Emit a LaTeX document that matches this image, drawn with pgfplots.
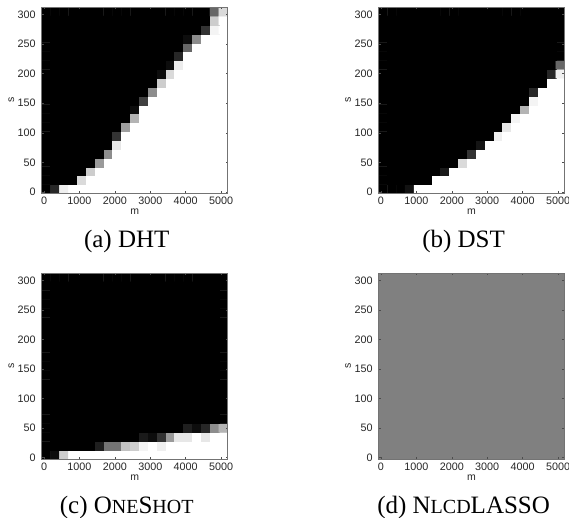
\documentclass[border=0pt]{standalone}
\usepackage{fontspec}
\setmainfont{Liberation Serif}
\setsansfont{Liberation Sans}
\usepackage{pgfplots}
\pgfplotsset{compat=1.18}

\newcommand\capfont{\fontsize{25}{30}\selectfont}
\newcommand\sm[1]{{\fontsize{20}{24}\selectfont #1}}

\pgfplotsset{
  hmap/.style={
    scale only axis, width=186pt, height=186pt,
    xmin=-65, xmax=5185, ymin=-2.5, ymax=312.5,
    xtick={0,1000,2000,3000,4000,5000},
    ytick={0,50,100,150,200,250,300},
    tick align=inside, major tick length=2.2pt,
    axis line style={black!55, line width=0.5pt},
    every tick/.style={black!70, line width=0.5pt},
    tick label style={font=\sffamily\fontsize{10.8}{12}\selectfont, text=black!85},
    /pgf/number format/assume math mode=true,
    /pgf/number format/1000 sep={},
    yticklabel style={xshift=-2.5pt},
    xlabel={m}, ylabel={s},
    label style={font=\sffamily\fontsize{10.5}{12}\selectfont, text=black!85},
    xlabel style={at={([yshift=-21.7pt]axis description cs:0.5,0)}, anchor=base},
    ylabel style={at={([xshift=-30.4pt]axis description cs:0,0.5)}, anchor=center},
    colormap={bw}{gray(0cm)=(0); gray(1cm)=(1)},
    point meta min=0, point meta max=1,
    axis on top,
  },
}

\begin{document}
\begin{tikzpicture}
\useasboundingbox (0,0) rectangle (569pt,517pt);

% (a) DHT
\begin{axis}[hmap, name=pa, at={(41.7pt,323.7pt)}, anchor=south west]
\addplot[matrix plot*, mesh/cols=21, point meta=explicit] table[meta=z, row sep=\\] {
m s z\\
60 5 0\\ 310 5 0.15\\ 560 5 0.93\\ 810 5 1\\ 1060 5 1\\ 1310 5 1\\ 1560 5 1\\ 1810 5 1\\ 2060 5 1\\ 2310 5 1\\ 2560 5 1\\ 2810 5 1\\ 3060 5 1\\ 3310 5 1\\ 3560 5 1\\ 3810 5 1\\ 4060 5 1\\ 4310 5 1\\ 4560 5 1\\ 4810 5 1\\ 5060 5 1\\
60 20 0\\ 310 20 0\\ 560 20 0\\ 810 20 0\\ 1060 20 0.85\\ 1310 20 1\\ 1560 20 1\\ 1810 20 1\\ 2060 20 1\\ 2310 20 1\\ 2560 20 1\\ 2810 20 1\\ 3060 20 1\\ 3310 20 1\\ 3560 20 1\\ 3810 20 1\\ 4060 20 1\\ 4310 20 1\\ 4560 20 1\\ 4810 20 1\\ 5060 20 1\\
60 35 0\\ 310 35 0\\ 560 35 0\\ 810 35 0\\ 1060 35 0\\ 1310 35 0.8\\ 1560 35 1\\ 1810 35 1\\ 2060 35 1\\ 2310 35 1\\ 2560 35 1\\ 2810 35 1\\ 3060 35 1\\ 3310 35 1\\ 3560 35 1\\ 3810 35 1\\ 4060 35 1\\ 4310 35 1\\ 4560 35 1\\ 4810 35 1\\ 5060 35 1\\
60 50 0\\ 310 50 0\\ 560 50 0\\ 810 50 0\\ 1060 50 0\\ 1310 50 0\\ 1560 50 0.6\\ 1810 50 1\\ 2060 50 1\\ 2310 50 1\\ 2560 50 1\\ 2810 50 1\\ 3060 50 1\\ 3310 50 1\\ 3560 50 1\\ 3810 50 1\\ 4060 50 1\\ 4310 50 1\\ 4560 50 1\\ 4810 50 1\\ 5060 50 1\\
60 65 0\\ 310 65 0\\ 560 65 0\\ 810 65 0\\ 1060 65 0\\ 1310 65 0\\ 1560 65 0\\ 1810 65 0.55\\ 2060 65 1\\ 2310 65 1\\ 2560 65 1\\ 2810 65 1\\ 3060 65 1\\ 3310 65 1\\ 3560 65 1\\ 3810 65 1\\ 4060 65 1\\ 4310 65 1\\ 4560 65 1\\ 4810 65 1\\ 5060 65 1\\
60 80 0\\ 310 80 0\\ 560 80 0\\ 810 80 0\\ 1060 80 0\\ 1310 80 0\\ 1560 80 0\\ 1810 80 0\\ 2060 80 0.9\\ 2310 80 1\\ 2560 80 1\\ 2810 80 1\\ 3060 80 1\\ 3310 80 1\\ 3560 80 1\\ 3810 80 1\\ 4060 80 1\\ 4310 80 1\\ 4560 80 1\\ 4810 80 1\\ 5060 80 1\\
60 95 0\\ 310 95 0\\ 560 95 0\\ 810 95 0\\ 1060 95 0\\ 1310 95 0\\ 1560 95 0\\ 1810 95 0\\ 2060 95 0.2\\ 2310 95 1\\ 2560 95 1\\ 2810 95 1\\ 3060 95 1\\ 3310 95 1\\ 3560 95 1\\ 3810 95 1\\ 4060 95 1\\ 4310 95 1\\ 4560 95 1\\ 4810 95 1\\ 5060 95 1\\
60 110 0\\ 310 110 0\\ 560 110 0\\ 810 110 0\\ 1060 110 0\\ 1310 110 0\\ 1560 110 0\\ 1810 110 0\\ 2060 110 0\\ 2310 110 0.62\\ 2560 110 1\\ 2810 110 1\\ 3060 110 1\\ 3310 110 1\\ 3560 110 1\\ 3810 110 1\\ 4060 110 1\\ 4310 110 1\\ 4560 110 1\\ 4810 110 1\\ 5060 110 1\\
60 125 0\\ 310 125 0\\ 560 125 0\\ 810 125 0\\ 1060 125 0\\ 1310 125 0\\ 1560 125 0\\ 1810 125 0\\ 2060 125 0\\ 2310 125 0\\ 2560 125 0.7\\ 2810 125 1\\ 3060 125 1\\ 3310 125 1\\ 3560 125 1\\ 3810 125 1\\ 4060 125 1\\ 4310 125 1\\ 4560 125 1\\ 4810 125 1\\ 5060 125 1\\
60 140 0\\ 310 140 0\\ 560 140 0\\ 810 140 0\\ 1060 140 0\\ 1310 140 0\\ 1560 140 0\\ 1810 140 0\\ 2060 140 0\\ 2310 140 0\\ 2560 140 0.05\\ 2810 140 1\\ 3060 140 1\\ 3310 140 1\\ 3560 140 1\\ 3810 140 1\\ 4060 140 1\\ 4310 140 1\\ 4560 140 1\\ 4810 140 1\\ 5060 140 1\\
60 155 0\\ 310 155 0\\ 560 155 0\\ 810 155 0\\ 1060 155 0\\ 1310 155 0\\ 1560 155 0\\ 1810 155 0\\ 2060 155 0\\ 2310 155 0\\ 2560 155 0\\ 2810 155 0.25\\ 3060 155 1\\ 3310 155 1\\ 3560 155 1\\ 3810 155 1\\ 4060 155 1\\ 4310 155 1\\ 4560 155 1\\ 4810 155 1\\ 5060 155 1\\
60 170 0\\ 310 170 0\\ 560 170 0\\ 810 170 0\\ 1060 170 0\\ 1310 170 0\\ 1560 170 0\\ 1810 170 0\\ 2060 170 0\\ 2310 170 0\\ 2560 170 0\\ 2810 170 0\\ 3060 170 0.55\\ 3310 170 1\\ 3560 170 1\\ 3810 170 1\\ 4060 170 1\\ 4310 170 1\\ 4560 170 1\\ 4810 170 1\\ 5060 170 1\\
60 185 0\\ 310 185 0\\ 560 185 0\\ 810 185 0\\ 1060 185 0\\ 1310 185 0\\ 1560 185 0\\ 1810 185 0\\ 2060 185 0\\ 2310 185 0\\ 2560 185 0\\ 2810 185 0\\ 3060 185 0\\ 3310 185 0.8\\ 3560 185 1\\ 3810 185 1\\ 4060 185 1\\ 4310 185 1\\ 4560 185 1\\ 4810 185 1\\ 5060 185 1\\
60 200 0\\ 310 200 0\\ 560 200 0\\ 810 200 0\\ 1060 200 0\\ 1310 200 0\\ 1560 200 0\\ 1810 200 0\\ 2060 200 0\\ 2310 200 0\\ 2560 200 0\\ 2810 200 0\\ 3060 200 0\\ 3310 200 0.05\\ 3560 200 0.85\\ 3810 200 1\\ 4060 200 1\\ 4310 200 1\\ 4560 200 1\\ 4810 200 1\\ 5060 200 1\\
60 215 0\\ 310 215 0\\ 560 215 0\\ 810 215 0\\ 1060 215 0\\ 1310 215 0\\ 1560 215 0\\ 1810 215 0\\ 2060 215 0\\ 2310 215 0\\ 2560 215 0\\ 2810 215 0\\ 3060 215 0\\ 3310 215 0\\ 3560 215 0.05\\ 3810 215 0.92\\ 4060 215 1\\ 4310 215 1\\ 4560 215 1\\ 4810 215 1\\ 5060 215 1\\
60 230 0\\ 310 230 0\\ 560 230 0\\ 810 230 0\\ 1060 230 0\\ 1310 230 0\\ 1560 230 0\\ 1810 230 0\\ 2060 230 0\\ 2310 230 0\\ 2560 230 0\\ 2810 230 0\\ 3060 230 0\\ 3310 230 0\\ 3560 230 0\\ 3810 230 0.15\\ 4060 230 1\\ 4310 230 1\\ 4560 230 1\\ 4810 230 1\\ 5060 230 1\\
60 245 0\\ 310 245 0\\ 560 245 0\\ 810 245 0\\ 1060 245 0\\ 1310 245 0\\ 1560 245 0\\ 1810 245 0\\ 2060 245 0\\ 2310 245 0\\ 2560 245 0\\ 2810 245 0\\ 3060 245 0\\ 3310 245 0\\ 3560 245 0\\ 3810 245 0\\ 4060 245 0.4\\ 4310 245 1\\ 4560 245 1\\ 4810 245 1\\ 5060 245 1\\
60 260 0\\ 310 260 0\\ 560 260 0\\ 810 260 0\\ 1060 260 0\\ 1310 260 0\\ 1560 260 0\\ 1810 260 0\\ 2060 260 0\\ 2310 260 0\\ 2560 260 0\\ 2810 260 0\\ 3060 260 0\\ 3310 260 0\\ 3560 260 0\\ 3810 260 0\\ 4060 260 0.05\\ 4310 260 0.55\\ 4560 260 1\\ 4810 260 1\\ 5060 260 1\\
60 275 0\\ 310 275 0\\ 560 275 0\\ 810 275 0\\ 1060 275 0\\ 1310 275 0\\ 1560 275 0\\ 1810 275 0\\ 2060 275 0\\ 2310 275 0\\ 2560 275 0\\ 2810 275 0\\ 3060 275 0\\ 3310 275 0\\ 3560 275 0\\ 3810 275 0\\ 4060 275 0\\ 4310 275 0\\ 4560 275 0.2\\ 4810 275 0.95\\ 5060 275 1\\
60 290 0\\ 310 290 0\\ 560 290 0\\ 810 290 0\\ 1060 290 0\\ 1310 290 0\\ 1560 290 0\\ 1810 290 0\\ 2060 290 0\\ 2310 290 0\\ 2560 290 0\\ 2810 290 0\\ 3060 290 0\\ 3310 290 0\\ 3560 290 0\\ 3810 290 0\\ 4060 290 0\\ 4310 290 0\\ 4560 290 0\\ 4810 290 0.8\\ 5060 290 1\\
60 305 0\\ 310 305 0\\ 560 305 0\\ 810 305 0\\ 1060 305 0\\ 1310 305 0\\ 1560 305 0\\ 1810 305 0\\ 2060 305 0\\ 2310 305 0\\ 2560 305 0\\ 2810 305 0\\ 3060 305 0\\ 3310 305 0\\ 3560 305 0\\ 3810 305 0\\ 4060 305 0\\ 4310 305 0\\ 4560 305 0\\ 4810 305 0.4\\ 5060 305 0.85\\
};
\end{axis}
\node[anchor=base, font=\capfont] at ([xshift=-8pt,yshift=-54pt]pa.south) {(a) DHT};

% (b) DST
\begin{axis}[hmap, name=pb, at={(378.6pt,323.7pt)}, anchor=south west]
\addplot[matrix plot*, mesh/cols=21, point meta=explicit] table[meta=z, row sep=\\] {
m s z\\
60 5 0\\ 310 5 0\\ 560 5 0\\ 810 5 0.07\\ 1060 5 1\\ 1310 5 1\\ 1560 5 1\\ 1810 5 1\\ 2060 5 1\\ 2310 5 1\\ 2560 5 1\\ 2810 5 1\\ 3060 5 1\\ 3310 5 1\\ 3560 5 1\\ 3810 5 1\\ 4060 5 1\\ 4310 5 1\\ 4560 5 1\\ 4810 5 1\\ 5060 5 1\\
60 20 0\\ 310 20 0\\ 560 20 0\\ 810 20 0\\ 1060 20 0\\ 1310 20 0\\ 1560 20 1\\ 1810 20 1\\ 2060 20 1\\ 2310 20 1\\ 2560 20 1\\ 2810 20 1\\ 3060 20 1\\ 3310 20 1\\ 3560 20 1\\ 3810 20 1\\ 4060 20 1\\ 4310 20 1\\ 4560 20 1\\ 4810 20 1\\ 5060 20 1\\
60 35 0\\ 310 35 0\\ 560 35 0\\ 810 35 0\\ 1060 35 0\\ 1310 35 0\\ 1560 35 0\\ 1810 35 0.1\\ 2060 35 1\\ 2310 35 1\\ 2560 35 1\\ 2810 35 1\\ 3060 35 1\\ 3310 35 1\\ 3560 35 1\\ 3810 35 1\\ 4060 35 1\\ 4310 35 1\\ 4560 35 1\\ 4810 35 1\\ 5060 35 1\\
60 50 0\\ 310 50 0\\ 560 50 0\\ 810 50 0\\ 1060 50 0\\ 1310 50 0\\ 1560 50 0\\ 1810 50 0\\ 2060 50 0\\ 2310 50 0.85\\ 2560 50 1\\ 2810 50 1\\ 3060 50 1\\ 3310 50 1\\ 3560 50 1\\ 3810 50 1\\ 4060 50 1\\ 4310 50 1\\ 4560 50 1\\ 4810 50 1\\ 5060 50 1\\
60 65 0\\ 310 65 0\\ 560 65 0\\ 810 65 0\\ 1060 65 0\\ 1310 65 0\\ 1560 65 0\\ 1810 65 0\\ 2060 65 0\\ 2310 65 0\\ 2560 65 0.2\\ 2810 65 1\\ 3060 65 1\\ 3310 65 1\\ 3560 65 1\\ 3810 65 1\\ 4060 65 1\\ 4310 65 1\\ 4560 65 1\\ 4810 65 1\\ 5060 65 1\\
60 80 0\\ 310 80 0\\ 560 80 0\\ 810 80 0\\ 1060 80 0\\ 1310 80 0\\ 1560 80 0\\ 1810 80 0\\ 2060 80 0\\ 2310 80 0\\ 2560 80 0\\ 2810 80 0.08\\ 3060 80 1\\ 3310 80 1\\ 3560 80 1\\ 3810 80 1\\ 4060 80 1\\ 4310 80 1\\ 4560 80 1\\ 4810 80 1\\ 5060 80 1\\
60 95 0\\ 310 95 0\\ 560 95 0\\ 810 95 0\\ 1060 95 0\\ 1310 95 0\\ 1560 95 0\\ 1810 95 0\\ 2060 95 0\\ 2310 95 0\\ 2560 95 0\\ 2810 95 0\\ 3060 95 0\\ 3310 95 0.93\\ 3560 95 1\\ 3810 95 1\\ 4060 95 1\\ 4310 95 1\\ 4560 95 1\\ 4810 95 1\\ 5060 95 1\\
60 110 0\\ 310 110 0\\ 560 110 0\\ 810 110 0\\ 1060 110 0\\ 1310 110 0\\ 1560 110 0\\ 1810 110 0\\ 2060 110 0\\ 2310 110 0\\ 2560 110 0\\ 2810 110 0\\ 3060 110 0\\ 3310 110 0\\ 3560 110 0.9\\ 3810 110 1\\ 4060 110 1\\ 4310 110 1\\ 4560 110 1\\ 4810 110 1\\ 5060 110 1\\
60 125 0\\ 310 125 0\\ 560 125 0\\ 810 125 0\\ 1060 125 0\\ 1310 125 0\\ 1560 125 0\\ 1810 125 0\\ 2060 125 0\\ 2310 125 0\\ 2560 125 0\\ 2810 125 0\\ 3060 125 0\\ 3310 125 0\\ 3560 125 0\\ 3810 125 0.95\\ 4060 125 1\\ 4310 125 1\\ 4560 125 1\\ 4810 125 1\\ 5060 125 1\\
60 140 0\\ 310 140 0\\ 560 140 0\\ 810 140 0\\ 1060 140 0\\ 1310 140 0\\ 1560 140 0\\ 1810 140 0\\ 2060 140 0\\ 2310 140 0\\ 2560 140 0\\ 2810 140 0\\ 3060 140 0\\ 3310 140 0\\ 3560 140 0\\ 3810 140 0\\ 4060 140 0.7\\ 4310 140 1\\ 4560 140 1\\ 4810 140 1\\ 5060 140 1\\
60 155 0\\ 310 155 0\\ 560 155 0\\ 810 155 0\\ 1060 155 0\\ 1310 155 0\\ 1560 155 0\\ 1810 155 0\\ 2060 155 0\\ 2310 155 0\\ 2560 155 0\\ 2810 155 0\\ 3060 155 0\\ 3310 155 0\\ 3560 155 0\\ 3810 155 0\\ 4060 155 0\\ 4310 155 0.95\\ 4560 155 1\\ 4810 155 1\\ 5060 155 1\\
60 170 0\\ 310 170 0\\ 560 170 0\\ 810 170 0\\ 1060 170 0\\ 1310 170 0\\ 1560 170 0\\ 1810 170 0\\ 2060 170 0\\ 2310 170 0\\ 2560 170 0\\ 2810 170 0\\ 3060 170 0\\ 3310 170 0\\ 3560 170 0\\ 3810 170 0\\ 4060 170 0\\ 4310 170 0.15\\ 4560 170 1\\ 4810 170 1\\ 5060 170 1\\
60 185 0\\ 310 185 0\\ 560 185 0\\ 810 185 0\\ 1060 185 0\\ 1310 185 0\\ 1560 185 0\\ 1810 185 0\\ 2060 185 0\\ 2310 185 0\\ 2560 185 0\\ 2810 185 0\\ 3060 185 0\\ 3310 185 0\\ 3560 185 0\\ 3810 185 0\\ 4060 185 0\\ 4310 185 0\\ 4560 185 0\\ 4810 185 1\\ 5060 185 1\\
60 200 0\\ 310 200 0\\ 560 200 0\\ 810 200 0\\ 1060 200 0\\ 1310 200 0\\ 1560 200 0\\ 1810 200 0\\ 2060 200 0\\ 2310 200 0\\ 2560 200 0\\ 2810 200 0\\ 3060 200 0\\ 3310 200 0\\ 3560 200 0\\ 3810 200 0\\ 4060 200 0\\ 4310 200 0\\ 4560 200 0\\ 4810 200 0.15\\ 5060 200 0.93\\
60 215 0\\ 310 215 0\\ 560 215 0\\ 810 215 0\\ 1060 215 0\\ 1310 215 0\\ 1560 215 0\\ 1810 215 0\\ 2060 215 0\\ 2310 215 0\\ 2560 215 0\\ 2810 215 0\\ 3060 215 0\\ 3310 215 0\\ 3560 215 0\\ 3810 215 0\\ 4060 215 0\\ 4310 215 0\\ 4560 215 0\\ 4810 215 0\\ 5060 215 0.4\\
60 230 0\\ 310 230 0\\ 560 230 0\\ 810 230 0\\ 1060 230 0\\ 1310 230 0\\ 1560 230 0\\ 1810 230 0\\ 2060 230 0\\ 2310 230 0\\ 2560 230 0\\ 2810 230 0\\ 3060 230 0\\ 3310 230 0\\ 3560 230 0\\ 3810 230 0\\ 4060 230 0\\ 4310 230 0\\ 4560 230 0\\ 4810 230 0\\ 5060 230 0\\
60 245 0\\ 310 245 0\\ 560 245 0\\ 810 245 0\\ 1060 245 0\\ 1310 245 0\\ 1560 245 0\\ 1810 245 0\\ 2060 245 0\\ 2310 245 0\\ 2560 245 0\\ 2810 245 0\\ 3060 245 0\\ 3310 245 0\\ 3560 245 0\\ 3810 245 0\\ 4060 245 0\\ 4310 245 0\\ 4560 245 0\\ 4810 245 0\\ 5060 245 0\\
60 260 0\\ 310 260 0\\ 560 260 0\\ 810 260 0\\ 1060 260 0\\ 1310 260 0\\ 1560 260 0\\ 1810 260 0\\ 2060 260 0\\ 2310 260 0\\ 2560 260 0\\ 2810 260 0\\ 3060 260 0\\ 3310 260 0\\ 3560 260 0\\ 3810 260 0\\ 4060 260 0\\ 4310 260 0\\ 4560 260 0\\ 4810 260 0\\ 5060 260 0\\
60 275 0\\ 310 275 0\\ 560 275 0\\ 810 275 0\\ 1060 275 0\\ 1310 275 0\\ 1560 275 0\\ 1810 275 0\\ 2060 275 0\\ 2310 275 0\\ 2560 275 0\\ 2810 275 0\\ 3060 275 0\\ 3310 275 0\\ 3560 275 0\\ 3810 275 0\\ 4060 275 0\\ 4310 275 0\\ 4560 275 0\\ 4810 275 0\\ 5060 275 0\\
60 290 0\\ 310 290 0\\ 560 290 0\\ 810 290 0\\ 1060 290 0\\ 1310 290 0\\ 1560 290 0\\ 1810 290 0\\ 2060 290 0\\ 2310 290 0\\ 2560 290 0\\ 2810 290 0\\ 3060 290 0\\ 3310 290 0\\ 3560 290 0\\ 3810 290 0\\ 4060 290 0\\ 4310 290 0\\ 4560 290 0\\ 4810 290 0\\ 5060 290 0\\
60 305 0\\ 310 305 0\\ 560 305 0\\ 810 305 0\\ 1060 305 0\\ 1310 305 0\\ 1560 305 0\\ 1810 305 0\\ 2060 305 0\\ 2310 305 0\\ 2560 305 0\\ 2810 305 0\\ 3060 305 0\\ 3310 305 0\\ 3560 305 0\\ 3810 305 0\\ 4060 305 0\\ 4310 305 0\\ 4560 305 0\\ 4810 305 0\\ 5060 305 0\\
};
\end{axis}
\node[anchor=base, font=\capfont] at ([xshift=-8pt,yshift=-54pt]pb.south) {(b) DST};

% (c) OneShot
\begin{axis}[hmap, name=pc, at={(41.7pt,58pt)}, anchor=south west]
\addplot[matrix plot*, mesh/cols=21, point meta=explicit] table[meta=z, row sep=\\] {
m s z\\
60 5 0\\ 310 5 0.05\\ 560 5 0.8\\ 810 5 1\\ 1060 5 1\\ 1310 5 1\\ 1560 5 1\\ 1810 5 1\\ 2060 5 1\\ 2310 5 1\\ 2560 5 1\\ 2810 5 1\\ 3060 5 1\\ 3310 5 1\\ 3560 5 1\\ 3810 5 1\\ 4060 5 1\\ 4310 5 1\\ 4560 5 1\\ 4810 5 1\\ 5060 5 1\\
60 20 0\\ 310 20 0\\ 560 20 0\\ 810 20 0\\ 1060 20 0\\ 1310 20 0\\ 1560 20 0.12\\ 1810 20 0.45\\ 2060 20 0.45\\ 2310 20 0.75\\ 2560 20 0.8\\ 2810 20 0.95\\ 3060 20 1\\ 3310 20 0.93\\ 3560 20 1\\ 3810 20 1\\ 4060 20 1\\ 4310 20 1\\ 4560 20 1\\ 4810 20 1\\ 5060 20 1\\
60 35 0\\ 310 35 0\\ 560 35 0\\ 810 35 0\\ 1060 35 0\\ 1310 35 0\\ 1560 35 0\\ 1810 35 0\\ 2060 35 0\\ 2310 35 0\\ 2560 35 0\\ 2810 35 0.1\\ 3060 35 0.05\\ 3310 35 0.2\\ 3560 35 0.6\\ 3810 35 0.9\\ 4060 35 0.9\\ 4310 35 1\\ 4560 35 0.9\\ 4810 35 1\\ 5060 35 1\\
60 50 0\\ 310 50 0\\ 560 50 0\\ 810 50 0\\ 1060 50 0\\ 1310 50 0\\ 1560 50 0\\ 1810 50 0\\ 2060 50 0\\ 2310 50 0\\ 2560 50 0\\ 2810 50 0\\ 3060 50 0\\ 3310 50 0\\ 3560 50 0\\ 3810 50 0\\ 4060 50 0.12\\ 4310 50 0.05\\ 4560 50 0.15\\ 4810 50 0.55\\ 5060 50 0.7\\
60 65 0\\ 310 65 0\\ 560 65 0\\ 810 65 0\\ 1060 65 0\\ 1310 65 0\\ 1560 65 0\\ 1810 65 0\\ 2060 65 0\\ 2310 65 0\\ 2560 65 0\\ 2810 65 0\\ 3060 65 0\\ 3310 65 0\\ 3560 65 0\\ 3810 65 0\\ 4060 65 0\\ 4310 65 0\\ 4560 65 0\\ 4810 65 0\\ 5060 65 0\\
60 80 0\\ 310 80 0\\ 560 80 0\\ 810 80 0\\ 1060 80 0\\ 1310 80 0\\ 1560 80 0\\ 1810 80 0\\ 2060 80 0\\ 2310 80 0\\ 2560 80 0\\ 2810 80 0\\ 3060 80 0\\ 3310 80 0\\ 3560 80 0\\ 3810 80 0\\ 4060 80 0\\ 4310 80 0\\ 4560 80 0\\ 4810 80 0\\ 5060 80 0\\
60 95 0\\ 310 95 0\\ 560 95 0\\ 810 95 0\\ 1060 95 0\\ 1310 95 0\\ 1560 95 0\\ 1810 95 0\\ 2060 95 0\\ 2310 95 0\\ 2560 95 0\\ 2810 95 0\\ 3060 95 0\\ 3310 95 0\\ 3560 95 0\\ 3810 95 0\\ 4060 95 0\\ 4310 95 0\\ 4560 95 0\\ 4810 95 0\\ 5060 95 0\\
60 110 0\\ 310 110 0\\ 560 110 0\\ 810 110 0\\ 1060 110 0\\ 1310 110 0\\ 1560 110 0\\ 1810 110 0\\ 2060 110 0\\ 2310 110 0\\ 2560 110 0\\ 2810 110 0\\ 3060 110 0\\ 3310 110 0\\ 3560 110 0\\ 3810 110 0\\ 4060 110 0\\ 4310 110 0\\ 4560 110 0\\ 4810 110 0\\ 5060 110 0\\
60 125 0\\ 310 125 0\\ 560 125 0\\ 810 125 0\\ 1060 125 0\\ 1310 125 0\\ 1560 125 0\\ 1810 125 0\\ 2060 125 0\\ 2310 125 0\\ 2560 125 0\\ 2810 125 0\\ 3060 125 0\\ 3310 125 0\\ 3560 125 0\\ 3810 125 0\\ 4060 125 0\\ 4310 125 0\\ 4560 125 0\\ 4810 125 0\\ 5060 125 0\\
60 140 0\\ 310 140 0\\ 560 140 0\\ 810 140 0\\ 1060 140 0\\ 1310 140 0\\ 1560 140 0\\ 1810 140 0\\ 2060 140 0\\ 2310 140 0\\ 2560 140 0\\ 2810 140 0\\ 3060 140 0\\ 3310 140 0\\ 3560 140 0\\ 3810 140 0\\ 4060 140 0\\ 4310 140 0\\ 4560 140 0\\ 4810 140 0\\ 5060 140 0\\
60 155 0\\ 310 155 0\\ 560 155 0\\ 810 155 0\\ 1060 155 0\\ 1310 155 0\\ 1560 155 0\\ 1810 155 0\\ 2060 155 0\\ 2310 155 0\\ 2560 155 0\\ 2810 155 0\\ 3060 155 0\\ 3310 155 0\\ 3560 155 0\\ 3810 155 0\\ 4060 155 0\\ 4310 155 0\\ 4560 155 0\\ 4810 155 0\\ 5060 155 0\\
60 170 0\\ 310 170 0\\ 560 170 0\\ 810 170 0\\ 1060 170 0\\ 1310 170 0\\ 1560 170 0\\ 1810 170 0\\ 2060 170 0\\ 2310 170 0\\ 2560 170 0\\ 2810 170 0\\ 3060 170 0\\ 3310 170 0\\ 3560 170 0\\ 3810 170 0\\ 4060 170 0\\ 4310 170 0\\ 4560 170 0\\ 4810 170 0\\ 5060 170 0\\
60 185 0\\ 310 185 0\\ 560 185 0\\ 810 185 0\\ 1060 185 0\\ 1310 185 0\\ 1560 185 0\\ 1810 185 0\\ 2060 185 0\\ 2310 185 0\\ 2560 185 0\\ 2810 185 0\\ 3060 185 0\\ 3310 185 0\\ 3560 185 0\\ 3810 185 0\\ 4060 185 0\\ 4310 185 0\\ 4560 185 0\\ 4810 185 0\\ 5060 185 0\\
60 200 0\\ 310 200 0\\ 560 200 0\\ 810 200 0\\ 1060 200 0\\ 1310 200 0\\ 1560 200 0\\ 1810 200 0\\ 2060 200 0\\ 2310 200 0\\ 2560 200 0\\ 2810 200 0\\ 3060 200 0\\ 3310 200 0\\ 3560 200 0\\ 3810 200 0\\ 4060 200 0\\ 4310 200 0\\ 4560 200 0\\ 4810 200 0\\ 5060 200 0\\
60 215 0\\ 310 215 0\\ 560 215 0\\ 810 215 0\\ 1060 215 0\\ 1310 215 0\\ 1560 215 0\\ 1810 215 0\\ 2060 215 0\\ 2310 215 0\\ 2560 215 0\\ 2810 215 0\\ 3060 215 0\\ 3310 215 0\\ 3560 215 0\\ 3810 215 0\\ 4060 215 0\\ 4310 215 0\\ 4560 215 0\\ 4810 215 0\\ 5060 215 0\\
60 230 0\\ 310 230 0\\ 560 230 0\\ 810 230 0\\ 1060 230 0\\ 1310 230 0\\ 1560 230 0\\ 1810 230 0\\ 2060 230 0\\ 2310 230 0\\ 2560 230 0\\ 2810 230 0\\ 3060 230 0\\ 3310 230 0\\ 3560 230 0\\ 3810 230 0\\ 4060 230 0\\ 4310 230 0\\ 4560 230 0\\ 4810 230 0\\ 5060 230 0\\
60 245 0\\ 310 245 0\\ 560 245 0\\ 810 245 0\\ 1060 245 0\\ 1310 245 0\\ 1560 245 0\\ 1810 245 0\\ 2060 245 0\\ 2310 245 0\\ 2560 245 0\\ 2810 245 0\\ 3060 245 0\\ 3310 245 0\\ 3560 245 0\\ 3810 245 0\\ 4060 245 0\\ 4310 245 0\\ 4560 245 0\\ 4810 245 0\\ 5060 245 0\\
60 260 0\\ 310 260 0\\ 560 260 0\\ 810 260 0\\ 1060 260 0\\ 1310 260 0\\ 1560 260 0\\ 1810 260 0\\ 2060 260 0\\ 2310 260 0\\ 2560 260 0\\ 2810 260 0\\ 3060 260 0\\ 3310 260 0\\ 3560 260 0\\ 3810 260 0\\ 4060 260 0\\ 4310 260 0\\ 4560 260 0\\ 4810 260 0\\ 5060 260 0\\
60 275 0\\ 310 275 0\\ 560 275 0\\ 810 275 0\\ 1060 275 0\\ 1310 275 0\\ 1560 275 0\\ 1810 275 0\\ 2060 275 0\\ 2310 275 0\\ 2560 275 0\\ 2810 275 0\\ 3060 275 0\\ 3310 275 0\\ 3560 275 0\\ 3810 275 0\\ 4060 275 0\\ 4310 275 0\\ 4560 275 0\\ 4810 275 0\\ 5060 275 0\\
60 290 0\\ 310 290 0\\ 560 290 0\\ 810 290 0\\ 1060 290 0\\ 1310 290 0\\ 1560 290 0\\ 1810 290 0\\ 2060 290 0\\ 2310 290 0\\ 2560 290 0\\ 2810 290 0\\ 3060 290 0\\ 3310 290 0\\ 3560 290 0\\ 3810 290 0\\ 4060 290 0\\ 4310 290 0\\ 4560 290 0\\ 4810 290 0\\ 5060 290 0\\
60 305 0\\ 310 305 0\\ 560 305 0\\ 810 305 0\\ 1060 305 0\\ 1310 305 0\\ 1560 305 0\\ 1810 305 0\\ 2060 305 0\\ 2310 305 0\\ 2560 305 0\\ 2810 305 0\\ 3060 305 0\\ 3310 305 0\\ 3560 305 0\\ 3810 305 0\\ 4060 305 0\\ 4310 305 0\\ 4560 305 0\\ 4810 305 0\\ 5060 305 0\\
};
\end{axis}
\node[anchor=base, font=\capfont] at ([xshift=-8pt,yshift=-54pt]pc.south) {(c) O\sm{NE}S\sm{HOT}};

% (d) NlcdLASSO: uniform 0.5 everywhere
\begin{axis}[hmap, name=pd, at={(378.6pt,58pt)}, anchor=south west]
\addplot[surf, shader=flat corner, mesh/cols=2, point meta=explicit] table[meta=z, row sep=\\] {
m s z\\
-65 -2.5 0.5\\ 5185 -2.5 0.5\\
-65 312.5 0.5\\ 5185 312.5 0.5\\
};
\end{axis}
\node[anchor=base, font=\capfont] at ([xshift=-8pt,yshift=-54pt]pd.south) {(d) N\sm{LCD}LASSO};
\end{tikzpicture}
\end{document}
